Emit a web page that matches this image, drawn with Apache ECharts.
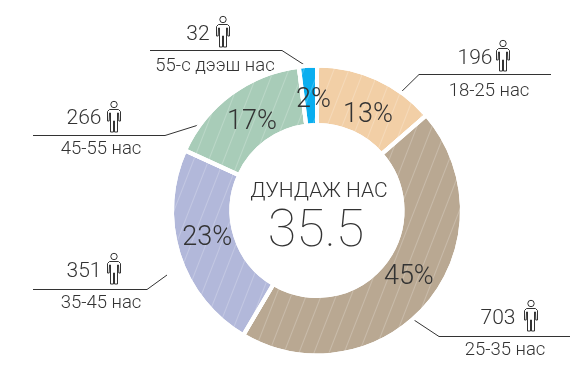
<!DOCTYPE html>
<html><head><meta charset="utf-8">
<style>html,body{margin:0;padding:0;background:#fff}#c{width:579px;height:367px}</style>
<script src="https://cdn.jsdelivr.net/npm/echarts@6/dist/echarts.min.js"></script>
</head><body><div id="c"></div>
<script>
const ageGroups = ['18-25 нас','25-35 нас','35-45 нас','45-55 нас','55-с дээш нас'];
const counts = [196,703,351,266,32];
const percents = ['13%','45%','23%','17%','2%'];
const drawnShares = [13.6,44.9,23.3,16.2,2.0];
const colors = ['#f2cfa6','#b9a892','#b2b8da','#a8ccb8','#0aaeef'];
const centerTitle = 'ДУНДАЖ НАС';
const centerValue = '35.5';
const font = 'Roboto';
const ink = '#333333';

const labelShifts = [[2,12],[1,-9],[3,-8],[5,7],[4,8]];
const leaders = [
  {pts:[[394,99],[419,74.5],[551,74.5]], countX:475, countY:59, iconX:503, iconY:40, ageX:489, ageY:91},
  {pts:[[414,320],[439,336.5],[570,336.5]], countX:498, countY:319, iconX:531, iconY:300, ageX:505, ageY:350},
  {pts:[[167,275],[147,289.5],[33,289.5]], countX:84, countY:272, iconX:114, iconY:253, ageX:101, ageY:303},
  {pts:[[208,122],[165,135.5],[33,135.5]], countX:84, countY:119, iconX:114, iconY:101, ageX:101, ageY:149},
  {pts:[[306,66],[282,50.5],[150,50.5]], countX:198, countY:35, iconX:223, iconY:16, ageX:215, ageY:66}
];
const bodyOutline = [[2,8.5],[11,8.5],[13,10.5],[13,20],[11.3,20],[11,12],[10,12],[10,31],[7,31],[7,20],[6,20],[6,31],[3,31],[3,12],[2,12],[1.7,20],[0,20],[0,10.5]];

const graphics = [];
leaders.forEach((l,i)=>{
  graphics.push({type:'polyline',shape:{points:l.pts},style:{stroke:'#333',lineWidth:1,fill:null},silent:true});
  graphics.push({type:'text',x:l.countX,y:l.countY,style:{text:String(counts[i]),font:'300 21px '+font,fill:ink,textAlign:'center',textVerticalAlign:'middle'},silent:true});
  graphics.push({type:'text',x:l.ageX,y:l.ageY,style:{text:ageGroups[i],font:'300 18.5px '+font,fill:ink,textAlign:'center',textVerticalAlign:'middle'},silent:true});
  graphics.push({type:'circle',x:l.iconX,y:l.iconY+3.5,shape:{r:3.2},style:{fill:'none',stroke:'#333',lineWidth:1},silent:true});
  graphics.push({type:'polygon',x:l.iconX-6.5,y:l.iconY,shape:{points:bodyOutline},style:{fill:'none',stroke:'#333',lineWidth:1},silent:true});
});
graphics.push({type:'text',x:319,y:192,style:{text:centerTitle,font:'300 21px '+font,fill:ink,textAlign:'center',textVerticalAlign:'middle'},silent:true});
graphics.push({type:'text',x:316,y:233,style:{text:centerValue,font:'100 52px '+font,fill:ink,textAlign:'center',textVerticalAlign:'middle'},silent:true});

const chart = echarts.init(document.getElementById('c'),null,{renderer:'canvas'});
chart.setOption({
  animation:false,
  series:[{
    type:'pie',
    center:[317,210.5],
    radius:[85.5,145],
    startAngle:90,
    clockwise:true,
    silent:true,
    data:drawnShares.map((v,i)=>({
      value:v,name:ageGroups[i],
      itemStyle:{color:colors[i],borderColor:'#fff',borderWidth:4,
        decal:{symbol:'rect',color:'rgba(255,255,255,0.22)',dashArrayX:[1,0],dashArrayY:[1,13],rotation:-1.2,symbolSize:1}},
      label:{formatter:percents[i]}
    })),
    label:{show:true,position:'inside',fontFamily:font,fontWeight:300,fontSize:27,color:ink},
    labelLayout:(p)=>({dx:labelShifts[p.dataIndex][0],dy:labelShifts[p.dataIndex][1]}),
    labelLine:{show:false}
  }],
  graphic:graphics
});
</script></body></html>
